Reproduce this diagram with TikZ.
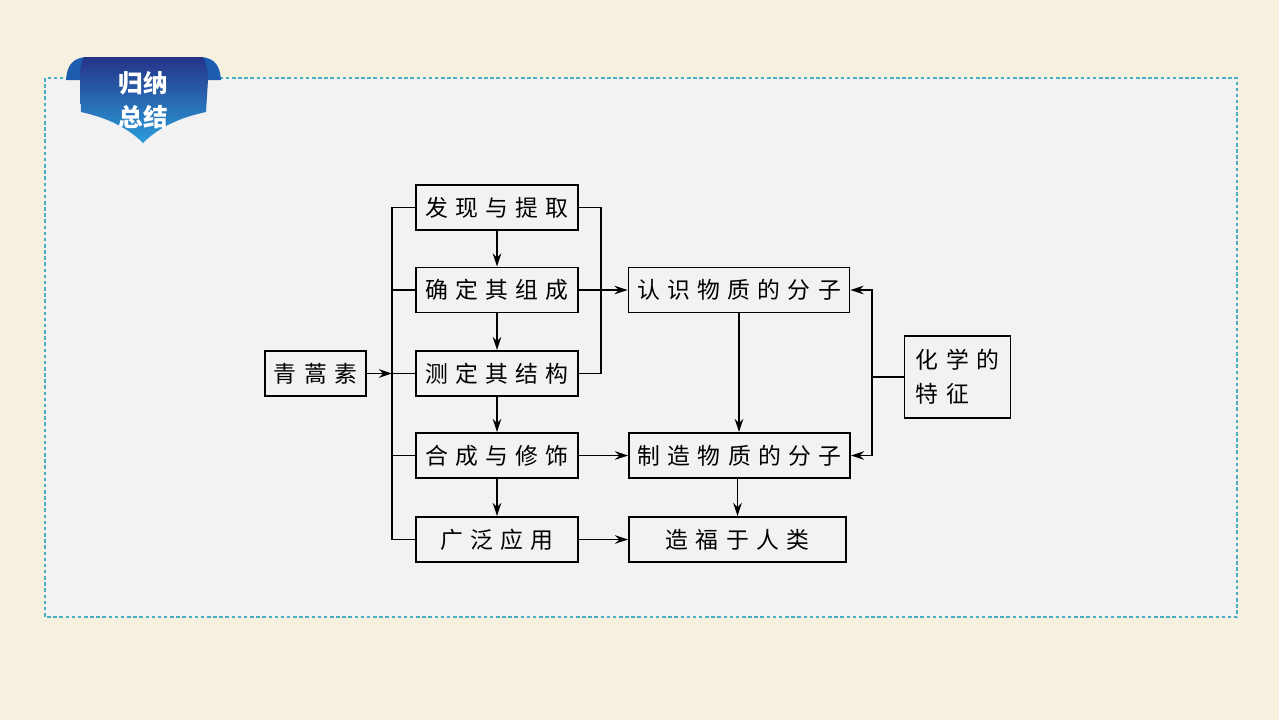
\documentclass[tikz,border=0pt]{standalone}
\usepackage{fontspec}
\setmainfont{Noto Sans CJK SC}
\newfontfamily\cjk[LetterSpace=32]{Noto Sans CJK SC}
\usepackage{xcolor}
\usepackage{tikz}
\usetikzlibrary{shapes.geometric, arrows, arrows.meta, positioning, calc}

\definecolor{paper}{HTML}{F6F1DE}
\definecolor{panel}{HTML}{F2F2F2}
\definecolor{panelline}{HTML}{4BACC6}
\definecolor{ribbontop}{HTML}{26338A}
\definecolor{ribbonbot}{HTML}{2C9DD9}
\definecolor{ribbonear}{HTML}{1D5DAF}

\begin{document}
\begin{tikzpicture}[
      x=0.02cm, y=-0.02cm,
      box/.style={draw, line width=1.1pt, inner sep=0pt, minimum height=0.9cm,
        font=\cjk\fontsize{13}{15}\selectfont},
      smallbox/.style={box, minimum width=3.24cm},
      widebox/.style={box, minimum width=4.42cm},
      link/.style={line width=1.1pt},
      >={Stealth[length=2.6mm, width=1.7mm]}
    ]
    % Page and panel
    \fill[paper] (0,0) rectangle (1279,720);
    \draw[panelline, fill=panel, line width=0.6pt, dash pattern=on 2pt off 1.5pt] (45,78) rectangle (1237,617);

    % Ribbon badge
    \fill[ribbonear] (66,80) .. controls (67,66) and (72,58) .. (86,57) -- (90,80) -- cycle;
    \fill[ribbonear] (221,80) .. controls (220,66) and (215,58) .. (201,57) -- (197,80) -- cycle;
    \shade[top color=ribbontop, bottom color=ribbonbot]
      (80,80) .. controls (80,70) and (81,62) .. (84,57) -- (203,57)
      .. controls (206,62) and (208,70) .. (208,80) -- (206,112)
      .. controls (178,118) and (158,128) .. (143,143)
      .. controls (128,128) and (108,118) .. (81,112) -- cycle;
    \node[white, align=center, font=\bfseries\fontsize{14}{19}\selectfont] (badge) at (143,100) {归纳\\总结};

    % Left column
    \node[box, minimum width=2.02cm] (qhs) at (315.5,373.5) {青蒿素};
    \node[smallbox] (find) at (497,207.5) {发现与提取};
    \node[smallbox] (fix) at (497,290) {确定其组成};
    \node[smallbox] (struct) at (497,373.5) {测定其结构};
    \node[smallbox] (synth) at (497,455.5) {合成与修饰};
    \node[smallbox] (apply) at (497,539.5) {广泛应用};

    % Right column
    \node[widebox] (know) at (739,290) {认识物质的分子};
    \node[widebox] (make) at (739.5,455.5) {制造物质的分子};
    \node[box, minimum width=4.34cm] (benefit) at (737.5,539.5) {造福于人类};
    \node[box, minimum width=2.12cm, minimum height=1.64cm, align=left,
      font=\cjk\fontsize{13}{19}\selectfont] (chem) at (957.5,376.7) {化学的\\特征};

    % Bus lines
    \coordinate (busx) at (392,0);
    \coordinate (brkx) at (601,0);
    \coordinate (chemx) at (872,0);

    \draw[link] (find.west) -- (find.west -| busx) -- (apply.west -| busx) -- (apply.west);
    \draw[link] (fix.west -| busx) -- (fix.west);
    \draw[link] (struct.west -| busx) -- (struct.west);
    \draw[link] (synth.west -| busx) -- (synth.west);
    \draw[link, ->] (qhs.east) -- (qhs.east -| busx);
    \draw[link] (find.east) -- (find.east -| brkx) |- (struct.east);

    % Arrows down the left column
    \draw[link, ->] (find) -- (fix);
    \draw[link, ->] (fix) -- (struct);
    \draw[link, ->] (struct) -- (synth);
    \draw[link, ->] (synth) -- (apply);

    % Arrows across
    \draw[link, ->] (fix) -- (know);
    \draw[link, ->] (synth) -- (make);
    \draw[link, ->] (apply) -- (benefit);
    \draw[link, ->] (know.south) -- (know.south |- make.north);
    \draw[link, ->] (benefit.north |- make.south) -- (benefit.north);

    % Feature of chemistry
    \draw[link] (chem.west) -- (chem.west -| chemx);
    \draw[link, ->] (chem.west -| chemx) |- (know.east);
    \draw[link, ->] (chem.west -| chemx) |- (make.east);
  \end{tikzpicture}
\end{document}
